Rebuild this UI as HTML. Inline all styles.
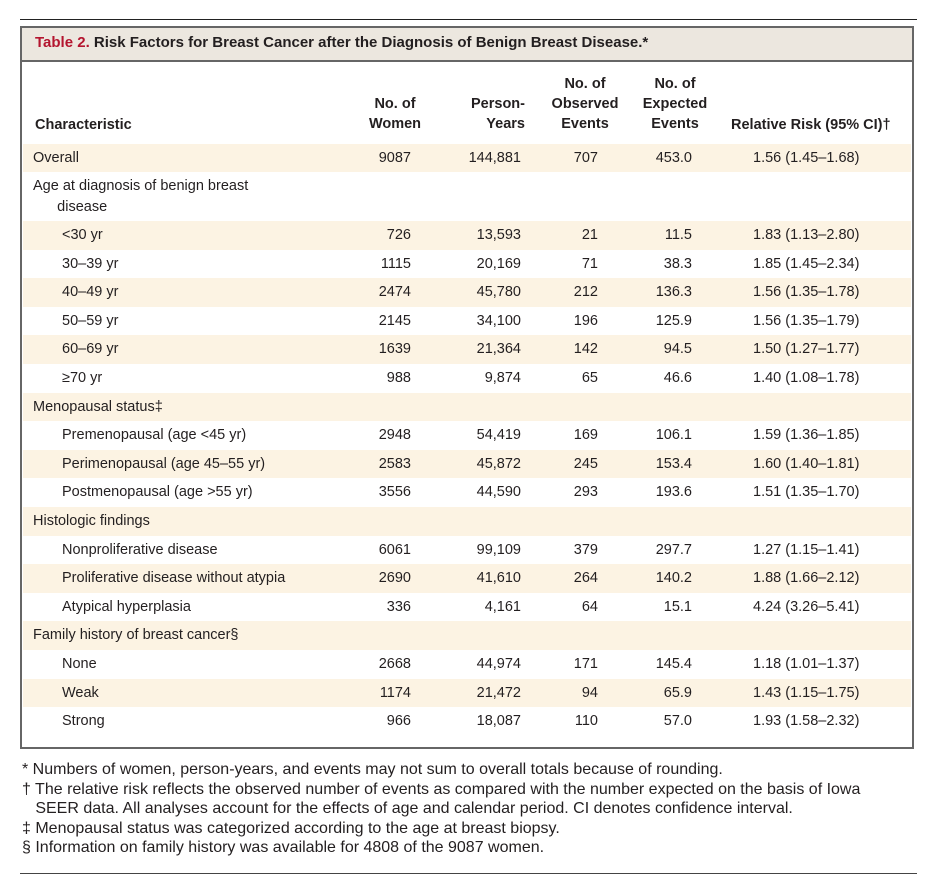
<!DOCTYPE html>
<html><head><meta charset="utf-8"><style>
body{margin:0;width:936px;height:896px;background:#fff;font-family:"Liberation Sans",sans-serif;color:#231f20;position:relative;overflow:hidden}
.a{position:absolute}
.r{position:absolute;left:23px;width:888px;height:28.6px;font-size:14.5px}
.s{background:#fcf3e3}
.r span{position:absolute;top:6px;white-space:nowrap}
.c1{left:10px}.c1i{left:39px}
.w{right:500px}.p{right:390px}.o{right:313px}.e{right:219px}.rr{left:730px}
.h{position:absolute;font-size:14.5px;text-align:center;line-height:20px;font-weight:bold;color:#231f20}
.fn{position:absolute;left:22px;font-size:16px;line-height:19.5px;white-space:nowrap}
</style></head><body>
<div class="a" style="left:20px;top:19px;width:897px;height:1px;background:#222"></div>
<div class="a" style="left:20px;top:26px;width:890px;height:719px;border:2px solid #666"></div>
<div class="a" style="left:22px;top:28px;width:890px;height:32px;background:#ece7df;border-bottom:2px solid #666"></div>
<div class="a" style="left:35px;top:34px;font-size:15px;font-weight:bold;white-space:nowrap"><span style="color:#b4152f">Table 2.</span> Risk Factors for Breast Cancer after the Diagnosis of Benign Breast Disease.*</div>
<div class="h" style="left:35px;top:115px;text-align:left">Characteristic</div>
<div class="h" style="left:355px;top:94px;width:80px">No. of<br>Women</div>
<div class="h" style="left:455px;top:94px;width:70px;text-align:right">Person-<br>Years</div>
<div class="h" style="left:540px;top:74px;width:90px">No. of<br>Observed<br>Events</div>
<div class="h" style="left:630px;top:74px;width:90px">No. of<br>Expected<br>Events</div>
<div class="h" style="left:731px;top:115px;text-align:left;white-space:nowrap">Relative Risk (95% CI)†</div>

<div class="r s" style="top:144px;height:28px"><span class="c1">Overall</span><span class="w">9087</span><span class="p">144,881</span><span class="o">707</span><span class="e">453.0</span><span class="rr">1.56 (1.45–1.68)</span></div>
<div class="r" style="top:172px;height:49px"><span class="c1" style="line-height:21px;top:4px">Age at diagnosis of benign breast<br>&nbsp;&nbsp;&nbsp;&nbsp;&nbsp;&nbsp;disease</span></div>

<div class="r s" style="top:221px"><span class="c1i">&lt;30 yr</span><span class="w">726</span><span class="p">13,593</span><span class="o">21</span><span class="e">11.5</span><span class="rr">1.83 (1.13–2.80)</span></div>
<div class="r" style="top:249.6px"><span class="c1i">30–39 yr</span><span class="w">1115</span><span class="p">20,169</span><span class="o">71</span><span class="e">38.3</span><span class="rr">1.85 (1.45–2.34)</span></div>
<div class="r s" style="top:278.2px"><span class="c1i">40–49 yr</span><span class="w">2474</span><span class="p">45,780</span><span class="o">212</span><span class="e">136.3</span><span class="rr">1.56 (1.35–1.78)</span></div>
<div class="r" style="top:306.8px"><span class="c1i">50–59 yr</span><span class="w">2145</span><span class="p">34,100</span><span class="o">196</span><span class="e">125.9</span><span class="rr">1.56 (1.35–1.79)</span></div>
<div class="r s" style="top:335.4px"><span class="c1i">60–69 yr</span><span class="w">1639</span><span class="p">21,364</span><span class="o">142</span><span class="e">94.5</span><span class="rr">1.50 (1.27–1.77)</span></div>
<div class="r" style="top:364px"><span class="c1i">≥70 yr</span><span class="w">988</span><span class="p">9,874</span><span class="o">65</span><span class="e">46.6</span><span class="rr">1.40 (1.08–1.78)</span></div>
<div class="r s" style="top:392.6px"><span class="c1">Menopausal status‡</span></div>
<div class="r" style="top:421.2px"><span class="c1i">Premenopausal (age &lt;45 yr)</span><span class="w">2948</span><span class="p">54,419</span><span class="o">169</span><span class="e">106.1</span><span class="rr">1.59 (1.36–1.85)</span></div>
<div class="r s" style="top:449.8px"><span class="c1i">Perimenopausal (age 45–55 yr)</span><span class="w">2583</span><span class="p">45,872</span><span class="o">245</span><span class="e">153.4</span><span class="rr">1.60 (1.40–1.81)</span></div>
<div class="r" style="top:478.4px"><span class="c1i">Postmenopausal (age &gt;55 yr)</span><span class="w">3556</span><span class="p">44,590</span><span class="o">293</span><span class="e">193.6</span><span class="rr">1.51 (1.35–1.70)</span></div>
<div class="r s" style="top:507px"><span class="c1">Histologic findings</span></div>
<div class="r" style="top:535.6px"><span class="c1i">Nonproliferative disease</span><span class="w">6061</span><span class="p">99,109</span><span class="o">379</span><span class="e">297.7</span><span class="rr">1.27 (1.15–1.41)</span></div>
<div class="r s" style="top:564.2px"><span class="c1i">Proliferative disease without atypia</span><span class="w">2690</span><span class="p">41,610</span><span class="o">264</span><span class="e">140.2</span><span class="rr">1.88 (1.66–2.12)</span></div>
<div class="r" style="top:592.8px"><span class="c1i">Atypical hyperplasia</span><span class="w">336</span><span class="p">4,161</span><span class="o">64</span><span class="e">15.1</span><span class="rr">4.24 (3.26–5.41)</span></div>
<div class="r s" style="top:621.4px"><span class="c1">Family history of breast cancer§</span></div>
<div class="r" style="top:650px"><span class="c1i">None</span><span class="w">2668</span><span class="p">44,974</span><span class="o">171</span><span class="e">145.4</span><span class="rr">1.18 (1.01–1.37)</span></div>
<div class="r s" style="top:678.6px"><span class="c1i">Weak</span><span class="w">1174</span><span class="p">21,472</span><span class="o">94</span><span class="e">65.9</span><span class="rr">1.43 (1.15–1.75)</span></div>
<div class="r" style="top:707.2px"><span class="c1i">Strong</span><span class="w">966</span><span class="p">18,087</span><span class="o">110</span><span class="e">57.0</span><span class="rr">1.93 (1.58–2.32)</span></div>

<div class="fn" style="top:760px">* Numbers of women, person-years, and events may not sum to overall totals because of rounding.<br>† The relative risk reflects the observed number of events as compared with the number expected on the basis of Iowa<br>&nbsp;&nbsp;&nbsp;SEER data. All analyses account for the effects of age and calendar period. CI denotes confidence interval.<br>‡ Menopausal status was categorized according to the age at breast biopsy.<br>§ Information on family history was available for 4808 of the 9087 women.</div>
<div class="a" style="left:20px;top:873px;width:897px;height:1px;background:#444"></div>
</body></html>
